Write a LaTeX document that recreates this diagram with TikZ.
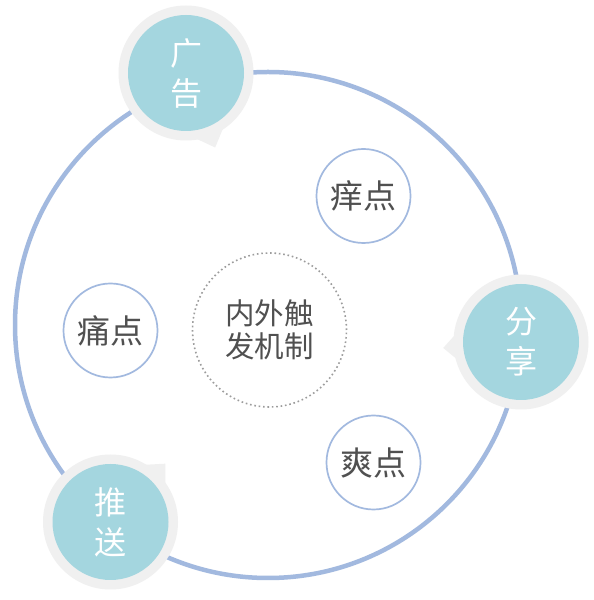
\documentclass[tikz,border=0pt]{standalone}
\usepackage{fontspec}
\setmainfont{Noto Sans CJK SC}
\definecolor{ringblue}{HTML}{A2B9DF}
\definecolor{badgeteal}{HTML}{A4D6DF}
\definecolor{badgegray}{HTML}{F0F0F0}
\definecolor{txtgray}{HTML}{505050}
\definecolor{dotgray}{HTML}{9C9C9C}
\begin{document}
\begin{tikzpicture}[x=1pt, y=1pt,
  halo/.style={shape=circle, fill=badgegray, minimum size=135pt, inner sep=0pt},
  badge/.style={shape=circle, fill=badgeteal, minimum size=116pt, inner sep=0pt, text=white, align=center, font=\fontsize{32}{40}\selectfont},
  pain/.style={shape=circle, draw=ringblue, line width=1.7pt, minimum size=94pt, inner sep=0pt, text=txtgray, font=\fontsize{33}{36}\selectfont},
]
\useasboundingbox[fill=white] (0,0) rectangle (594,600);
\draw[ringblue, line width=4.5pt] (268,275) circle (253);

\node[pain] (P1) at (363.5,404) {痒点};
\node[pain] (P2) at (110.5,269.5) {痛点};
\node[pain] (P3) at (373.5,137.5) {爽点};

\node[shape=circle, draw=dotgray, line width=1.6pt, dash pattern=on 1.6pt off 2.8pt, minimum size=154pt, inner sep=0pt, text=txtgray, align=center, font=\fontsize{29.5}{33}\selectfont] (M) at (269.5,270) {内外触\\发机制};

\node[halo] (H1) at (186,527) {};
\fill[badgegray, shift={(H1.center)}, rotate=-68.6] (80,0) -- (58,21) -- (0,0) -- (58,-21) -- cycle;
\node[badge] (A1) at (H1) {广\\告};

\node[halo] (H2) at (521,258) {};
\fill[badgegray, shift={(H2.center)}, rotate=184.4] (78,0) -- (56,21) -- (0,0) -- (56,-21) -- cycle;
\node[badge] (A2) at (H2) {分\\享};

\node[halo] (H3) at (110.5,78) {};
\fill[badgegray, shift={(H3.center)}, rotate=46.8] (80,0) -- (58,21) -- (0,0) -- (58,-21) -- cycle;
\node[badge] (A3) at (H3) {推\\送};
\end{tikzpicture}
\end{document}
